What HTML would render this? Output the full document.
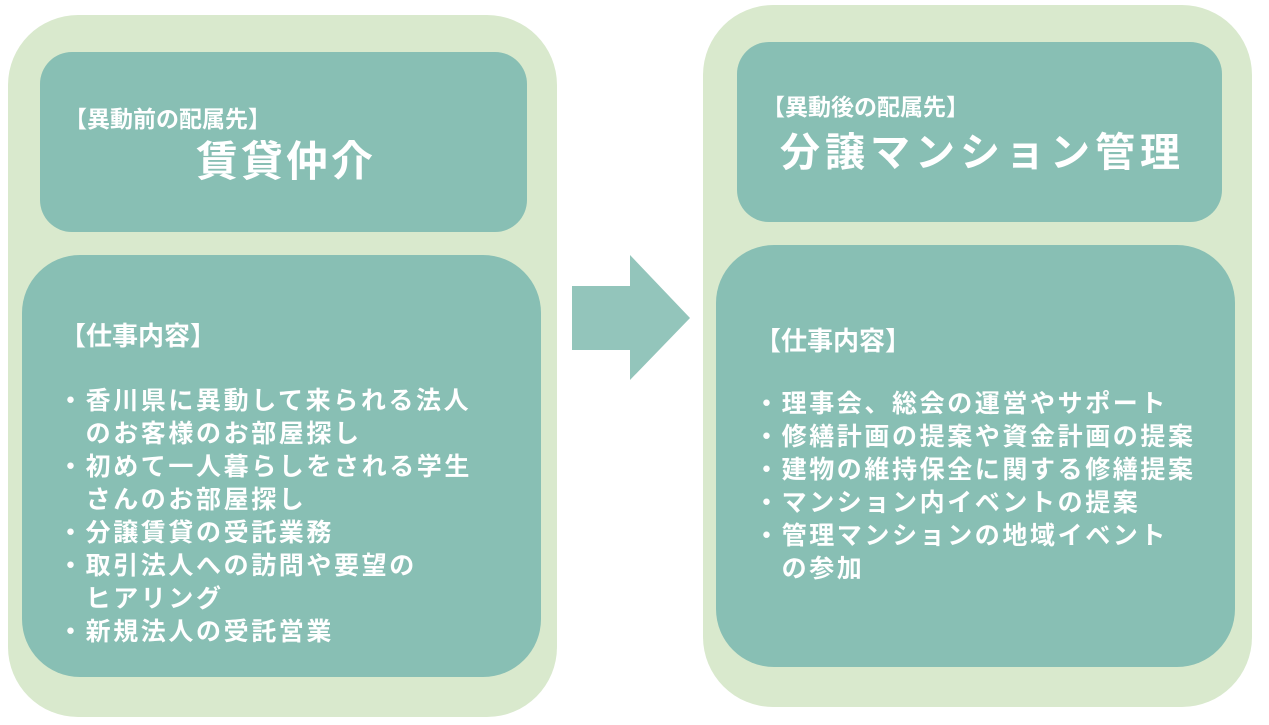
<!DOCTYPE html>
<html><head><meta charset="utf-8"><style>
body{margin:0;width:1269px;height:725px;background:#fff;position:relative;overflow:hidden;font-family:"Liberation Sans","Noto Sans CJK JP",sans-serif;color:#fff;font-weight:bold}
.o{position:absolute;background:#d9e9cd;border-radius:70px}
.b{position:absolute;background:#88bfb4}
.t{position:absolute;white-space:nowrap}
.l{font-size:25px;line-height:33px;letter-spacing:2.6px}
</style></head><body>
<div class="o" style="left:8px;top:15px;width:549px;height:702px"></div>
<div class="b" style="left:40px;top:52px;width:487px;height:180px;border-radius:32px"></div>
<div class="b" style="left:22px;top:255px;width:519px;height:422px;border-radius:58px"></div>
<div class="t" style="left:64px;top:100px;font-size:23px">【異動前の配属先】</div>
<div class="t" style="left:196px;top:128px;font-size:42px;letter-spacing:3px">賃貸仲介</div>
<div class="t" style="left:60px;top:316px;font-size:26px">【仕事内容】</div>
<div class="t l" style="left:58px;top:385px">・香川県に異動して来られる法人<br>　のお客様のお部屋探し<br>・初めて一人暮らしをされる学生<br>　さんのお部屋探し<br>・分譲賃貸の受託業務<br>・取引法人への訪問や要望の<br>　ヒアリング<br>・新規法人の受託営業</div>

<svg style="position:absolute;left:0;top:0" width="1269" height="725"><polygon points="572,286 630,286 630,255 690,318 630,380 630,350 572,350" fill="#93c5bb"/></svg>

<div class="o" style="left:703px;top:5px;width:549px;height:702px"></div>
<div class="b" style="left:737px;top:42px;width:485px;height:180px;border-radius:32px"></div>
<div class="b" style="left:716px;top:245px;width:519px;height:422px;border-radius:58px"></div>
<div class="t" style="left:762px;top:88px;font-size:23px">【異動後の配属先】</div>
<div class="t" style="left:780px;top:120px;font-size:40px;letter-spacing:5px">分譲マンション管理</div>
<div class="t" style="left:755px;top:321px;font-size:26px">【仕事内容】</div>
<div class="t l" style="left:754px;top:388px">・理事会、総会の運営やサポート<br>・修繕計画の提案や資金計画の提案<br>・建物の維持保全に関する修繕提案<br>・マンション内イベントの提案<br>・管理マンションの地域イベント<br>　の参加</div>
</body></html>
